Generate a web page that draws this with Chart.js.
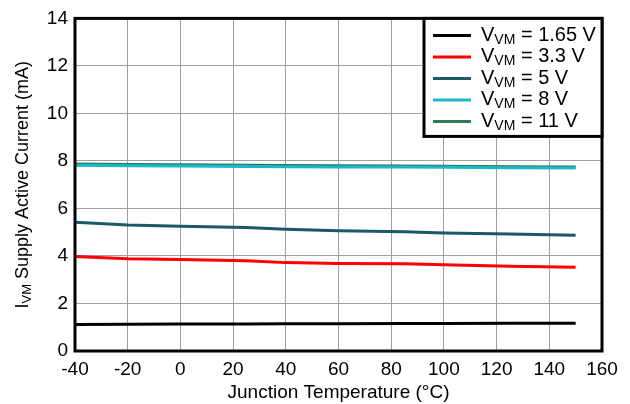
<!DOCTYPE html>
<html>
<head>
<meta charset="utf-8">
<script src="https://cdn.jsdelivr.net/npm/chart.js@4"></script>
<style>
  html, body { margin: 0; padding: 0; background: #fff; }
  #wrap { width: 630px; height: 404px; }
</style>
</head>
<body>
<div id="wrap"><canvas id="chart" width="630" height="404"></canvas></div>
<script>
// junction temperature (°C)
const temps = [-40, -20, 0, 25, 40, 60, 85, 100, 125, 150];

// supply current (mA) per VM
const vm165 = [1.12, 1.13, 1.14, 1.14, 1.15, 1.15, 1.16, 1.16, 1.17, 1.17];
const vm33  = [3.98, 3.88, 3.85, 3.80, 3.72, 3.68, 3.67, 3.63, 3.57, 3.53];
const vm5   = [5.42, 5.30, 5.25, 5.20, 5.12, 5.06, 5.02, 4.97, 4.92, 4.87];
const vm8   = [7.82, 7.80, 7.79, 7.77, 7.76, 7.75, 7.74, 7.73, 7.71, 7.70];
const vm11  = [7.87, 7.85, 7.84, 7.82, 7.81, 7.80, 7.79, 7.78, 7.76, 7.74];

const seriesNames = ["1.65 V", "3.3 V", "5 V", "8 V", "11 V"];
const seriesColors = ["#000000", "#ff0000", "#1b5868", "#1ab8c8", "#2e7a58"];

const yTicks = [0, 2, 4, 6, 8, 10, 12, 14];
const xTicks = [-40, -20, 0, 20, 40, 60, 80, 100, 120, 140, 160];

const FONT = "'Liberation Sans', Arial, sans-serif";

function pts(vals) {
  return temps.map((t, i) => ({ x: t, y: vals[i] }));
}

const allSeries = [vm165, vm33, vm5, vm8, vm11];

// draw "V" + subscript "VM" + rest, returns end x
function subText(ctx, x, y, main, sub, rest, size) {
  ctx.font = size + "px " + FONT;
  ctx.fillText(main, x, y);
  x += ctx.measureText(main).width;
  ctx.font = Math.round(size * 0.7) + "px " + FONT;
  ctx.fillText(sub, x, y + size * 0.22);
  x += ctx.measureText(sub).width;
  ctx.font = size + "px " + FONT;
  ctx.fillText(rest, x, y);
  return x + ctx.measureText(rest).width;
}

const decor = {
  id: "decor",
  afterDraw(chart) {
    const ctx = chart.ctx;
    const a = chart.chartArea;
    ctx.save();
    // frame
    ctx.strokeStyle = "#000";
    ctx.lineWidth = 3;
    ctx.strokeRect(a.left, a.top, a.right - a.left, a.bottom - a.top);

    // legend box
    const lx = 424, ly = a.top, lw = a.right - lx, lh = 118;
    ctx.fillStyle = "#fff";
    ctx.fillRect(lx, ly, lw, lh);
    ctx.lineWidth = 3;
    ctx.strokeRect(lx, ly, lw, lh);
    ctx.textBaseline = "middle";
    chart.data.datasets.forEach((ds, i) => {
      const y = ly + 17 + i * 21.5;
      ctx.strokeStyle = ds.borderColor;
      ctx.lineWidth = 3;
      ctx.beginPath();
      ctx.moveTo(433, y);
      ctx.lineTo(471, y);
      ctx.stroke();
      ctx.fillStyle = "#000";
      subText(ctx, 481, y, "V", "VM", " = " + seriesNames[i], 20);
    });

    // y-axis title
    ctx.translate(23, (a.top + a.bottom) / 2);
    ctx.rotate(-Math.PI / 2);
    ctx.fillStyle = "#000";
    ctx.textBaseline = "middle";
    const parts = ["I", "VM", " Supply Active Current (mA)"];
    ctx.font = "18px " + FONT;
    let w = ctx.measureText(parts[0]).width + ctx.measureText(parts[2]).width;
    ctx.font = "13px " + FONT;
    w += ctx.measureText(parts[1]).width;
    subText(ctx, -w / 2, 0, parts[0], parts[1], parts[2], 18);
    ctx.restore();
  }
};

new Chart(document.getElementById("chart"), {
  type: "line",
  data: {
    datasets: allSeries.map((vals, i) => ({
      label: "VVM = " + seriesNames[i],
      data: pts(vals),
      borderColor: seriesColors[i],
      backgroundColor: seriesColors[i],
      borderWidth: 3,
      pointRadius: 0,
      tension: 0,
      fill: false
    }))
  },
  options: {
    responsive: false,
    animation: false,
    layout: { padding: { top: 13, right: 28, left: 0, bottom: 0 } },
    plugins: {
      legend: { display: false },
      tooltip: { enabled: false }
    },
    scales: {
      x: {
        type: "linear",
        min: -40,
        max: 160,
        afterBuildTicks: s => { s.ticks = xTicks.map(v => ({ value: v })); },
        afterFit: s => { s.height = 53; },
        grid: { color: "#a0a0a0", lineWidth: 1, drawTicks: false },
        border: { display: false },
        ticks: { color: "#000", font: { family: FONT, size: 19 }, padding: 7, maxRotation: 0 },
        title: { display: true, text: "Junction Temperature (°C)", color: "#000", font: { family: FONT, size: 19 }, padding: { top: 0, bottom: 0 } }
      },
      y: {
        min: 0,
        max: 14,
        afterBuildTicks: s => { s.ticks = yTicks.map(v => ({ value: v })); },
        afterFit: s => { s.width = 75; },
        grid: { color: "#a0a0a0", lineWidth: 1, drawTicks: false },
        border: { display: false },
        ticks: { color: "#000", font: { family: FONT, size: 19 }, padding: 7 }
      }
    }
  },
  plugins: [decor]
});
</script>
</body>
</html>
